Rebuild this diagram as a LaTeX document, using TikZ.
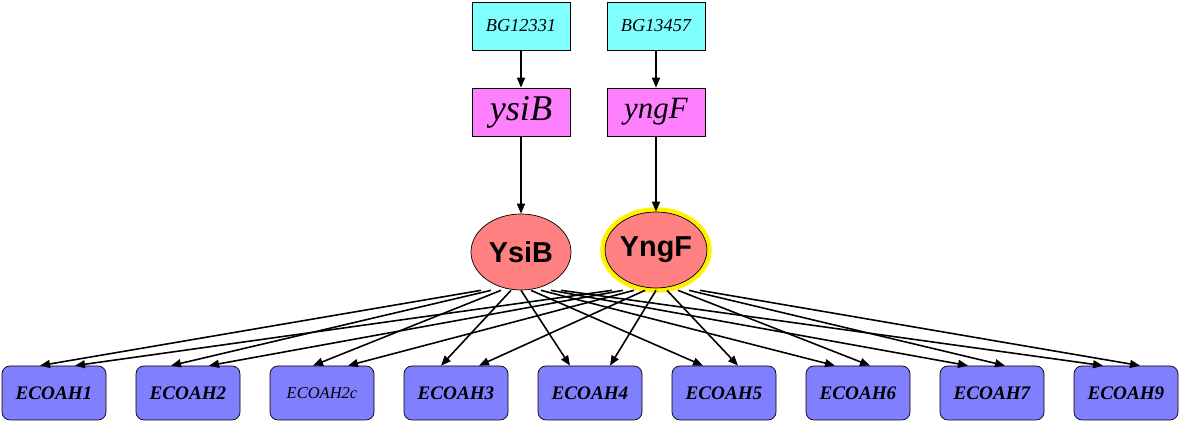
\documentclass[tikz,border=0pt]{standalone}
\usepackage{fontspec}
\setmainfont{Liberation Serif}
\setsansfont{Liberation Sans}
\usetikzlibrary{shapes,arrows.meta,positioning}
\definecolor{bgcyan}{HTML}{80FFFF}
\definecolor{genepink}{HTML}{FF80FF}
\definecolor{protred}{HTML}{FF8080}
\definecolor{ecoblue}{HTML}{8080FF}
\tikzstyle{bgid}=[draw,rectangle,fill=bgcyan,minimum width=1.96cm,minimum height=.96cm,
  font=\itshape\fontsize{10.4}{12}\selectfont]
\tikzstyle{gene}=[bgid,fill=genepink]
\tikzstyle{prot}=[draw,ellipse,fill=protred,minimum width=2cm,minimum height=1.52cm,
  inner sep=0pt,font=\sffamily\bfseries\fontsize{16.4}{18}\selectfont]
\tikzstyle{glow}=[preaction={draw=yellow,line width=.19cm}]
\tikzstyle{eco}=[draw,rectangle,rounded corners=.16cm,fill=ecoblue,minimum width=2.08cm,
  minimum height=1.08cm,font=\bfseries\itshape\fontsize{10.9}{12}\selectfont]
\tikzstyle{edge}=[-{Triangle[length=2mm,width=1.6mm]},line width=.9pt]

\begin{document}
\begin{tikzpicture}[node distance=2.68cm, on grid]
  \useasboundingbox (0,0) rectangle (23.6,8.44);

  \node[bgid] (bg1) at (10.42,7.92) {BG12331};
  \node[bgid, right=2.7cm of bg1] (bg2) {BG13457};

  \node[gene, below=1.72cm of bg1, font=\itshape\fontsize{20.6}{22}\selectfont] (ysib) {ysiB};
  \node[gene, below=1.72cm of bg2, font=\itshape\fontsize{17.6}{20}\selectfont] (yngf) {yngF};

  \node[prot, below=2.8cm of ysib] (YsiB) {YsiB};
  \node[prot, glow, below=2.76cm of yngf] (YngF) {YngF};

  \node[eco] (ah1) at (1.08,.58) {ECOAH1};
  \node[eco, right=of ah1] (ah2) {ECOAH2};
  \node[eco, right=of ah2, font=\itshape\fontsize{9.4}{11}\selectfont] (ah2c) {ECOAH2c};
  \node[eco, right=of ah2c] (ah3) {ECOAH3};
  \node[eco, right=of ah3] (ah4) {ECOAH4};
  \node[eco, right=of ah4] (ah5) {ECOAH5};
  \node[eco, right=of ah5] (ah6) {ECOAH6};
  \node[eco, right=of ah6] (ah7) {ECOAH7};
  \node[eco, right=of ah7] (ah9) {ECOAH9};

  \draw[edge] (bg1) -- (ysib);
  \draw[edge] (bg2) -- (yngf);
  \draw[edge] (ysib) -- (YsiB);
  \draw[edge] (yngf) -- (YngF);

  % each target gets one edge from both proteins, fanned out below them
  \foreach \t/\l/\r/\s in {ah1/-.28/.42/-4, ah2/-.34/.42/-3, ah2c/-.18/.52/-2,
      ah3/-.3/.46/-1, ah4/-.4/.4/0, ah5/-.42/.28/1, ah6/-.46/.24/2,
      ah7/-.48/.26/3, ah9/-.46/.28/4} {
    \draw[edge] ([xshift=\s*.2cm]YsiB.south) -- ([xshift=\l cm]\t.north);
    \draw[edge] ([xshift=\s*.22cm, yshift=-.04cm]YngF.south) -- ([xshift=\r cm]\t.north);
  }
\end{tikzpicture}
\end{document}
